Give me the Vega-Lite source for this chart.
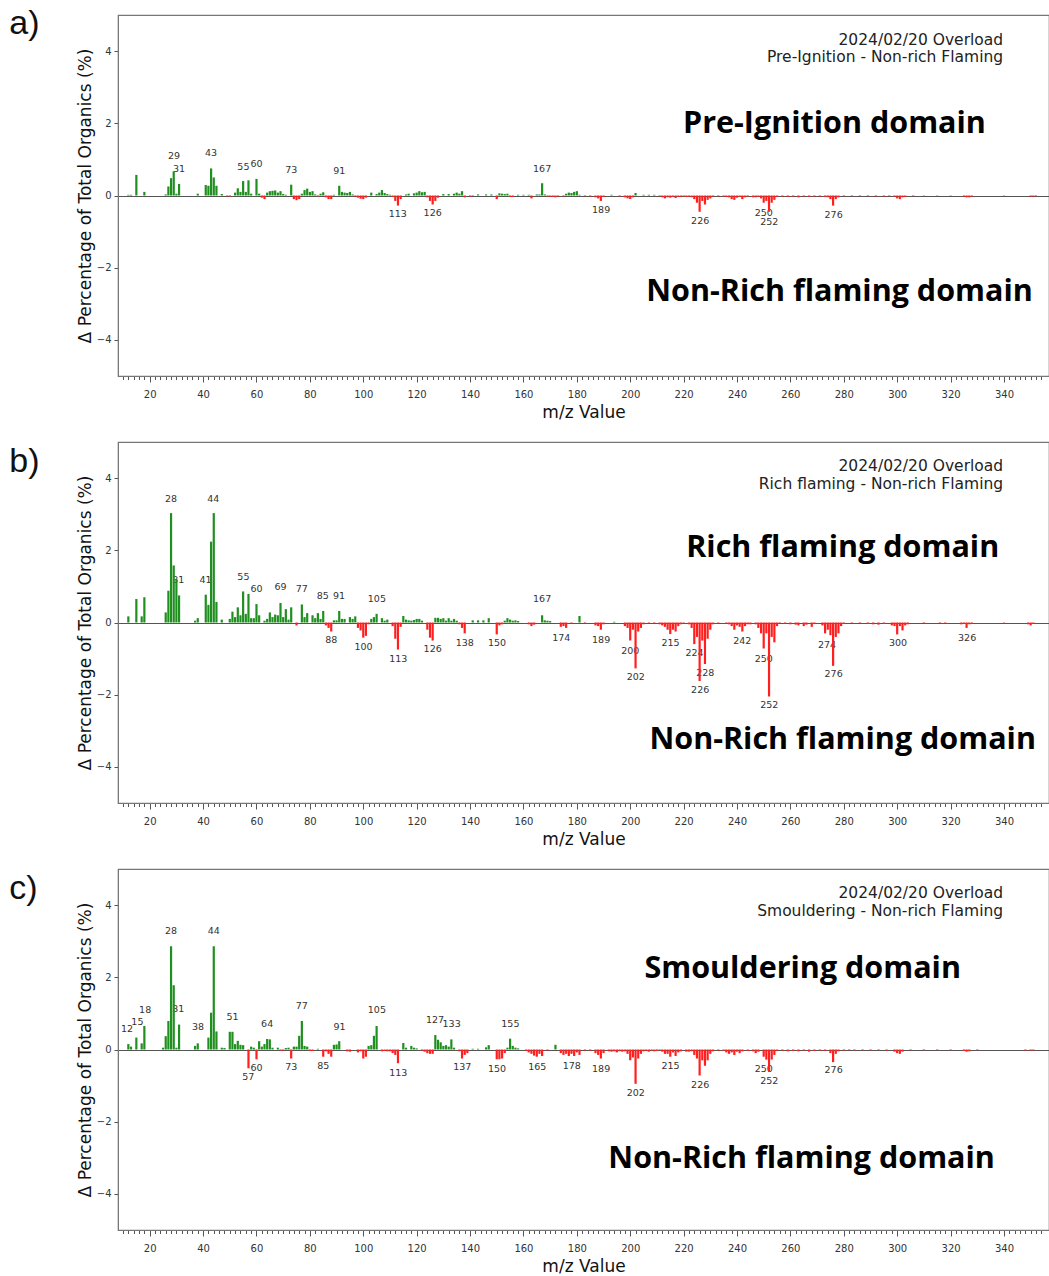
{
"$schema": "https://vega.github.io/schema/vega-lite/v6.json",
"background": "white",
"padding": {"left": 8, "top": 6, "right": 0, "bottom": 0},
"spacing": 20,
"config": {
 "view": {"stroke": "#777", "strokeWidth": 1.2},
 "axis": {"grid": false, "domainColor": "#777", "tickColor": "#555", "labelColor": "#333", "labelFont": "DejaVu Sans", "labelFontSize": 10, "titleFont": "DejaVu Sans", "titleFontSize": 17, "titleFontWeight": "normal", "titleColor": "#111", "labelOverlap": false, "labelFlush": false},
 "axisX": {"labelPadding": 7, "titlePadding": 5},
 "axisY": {"tickSize": 4, "labelPadding": 3, "titlePadding": 2}
},
"datasets": {
"a": [
{"mz":12,"v":0.02},{"mz":13,"v":0.02},{"mz":15,"v":0.57},{"mz":18,"v":0.1},{"mz":26,"v":0.03},{"mz":27,"v":0.25},{"mz":28,"v":0.48},{"mz":29,"v":0.67},{"mz":30,"v":0.05},{"mz":31,"v":0.32},{"mz":38,"v":0.05},{"mz":41,"v":0.29},{"mz":42,"v":0.27},{"mz":43,"v":0.75},{"mz":44,"v":0.5},{"mz":45,"v":0.27},{"mz":47,"v":0.04},{"mz":49,"v":-0.02},{"mz":50,"v":-0.03},{"mz":52,"v":0.08},{"mz":53,"v":0.2},{"mz":54,"v":0.1},{"mz":55,"v":0.4},{"mz":56,"v":0.1},{"mz":57,"v":0.42},{"mz":58,"v":0.05},{"mz":60,"v":0.46},{"mz":61,"v":0.05},{"mz":62,"v":-0.06},{"mz":63,"v":-0.1},{"mz":64,"v":0.08},{"mz":65,"v":0.12},{"mz":66,"v":0.13},{"mz":67,"v":0.14},{"mz":68,"v":0.08},{"mz":69,"v":0.12},{"mz":70,"v":0.04},{"mz":71,"v":0.02},{"mz":73,"v":0.3},{"mz":74,"v":-0.1},{"mz":75,"v":-0.13},{"mz":76,"v":-0.1},{"mz":77,"v":0.05},{"mz":78,"v":0.15},{"mz":79,"v":0.19},{"mz":80,"v":0.1},{"mz":81,"v":0.12},{"mz":82,"v":0.03},{"mz":83,"v":-0.03},{"mz":84,"v":0.05},{"mz":85,"v":0.09},{"mz":86,"v":-0.05},{"mz":87,"v":-0.1},{"mz":88,"v":-0.1},{"mz":89,"v":0.02},{"mz":91,"v":0.27},{"mz":92,"v":0.1},{"mz":93,"v":0.08},{"mz":94,"v":0.07},{"mz":95,"v":0.1},{"mz":96,"v":0.03},{"mz":97,"v":-0.03},{"mz":98,"v":-0.06},{"mz":99,"v":-0.09},{"mz":100,"v":-0.1},{"mz":101,"v":-0.06},{"mz":103,"v":0.08},{"mz":105,"v":0.04},{"mz":106,"v":0.08},{"mz":107,"v":0.15},{"mz":108,"v":0.07},{"mz":109,"v":0.04},{"mz":110,"v":0.02},{"mz":111,"v":-0.04},{"mz":112,"v":-0.15},{"mz":113,"v":-0.28},{"mz":114,"v":-0.1},{"mz":116,"v":0.03},{"mz":117,"v":0.05},{"mz":119,"v":0.06},{"mz":120,"v":0.08},{"mz":121,"v":0.12},{"mz":122,"v":0.09},{"mz":123,"v":0.1},{"mz":124,"v":-0.05},{"mz":125,"v":-0.15},{"mz":126,"v":-0.25},{"mz":127,"v":-0.15},{"mz":128,"v":-0.06},{"mz":130,"v":0.04},{"mz":132,"v":0.04},{"mz":134,"v":0.05},{"mz":135,"v":0.08},{"mz":136,"v":0.05},{"mz":137,"v":0.12},{"mz":138,"v":-0.05},{"mz":140,"v":-0.03},{"mz":141,"v":-0.02},{"mz":143,"v":0.03},{"mz":146,"v":0.03},{"mz":148,"v":0.03},{"mz":150,"v":-0.1},{"mz":151,"v":0.06},{"mz":152,"v":0.05},{"mz":153,"v":0.04},{"mz":154,"v":0.05},{"mz":155,"v":-0.04},{"mz":156,"v":-0.04},{"mz":158,"v":0.02},{"mz":160,"v":0.02},{"mz":162,"v":0.02},{"mz":163,"v":-0.08},{"mz":165,"v":0.03},{"mz":166,"v":0.03},{"mz":167,"v":0.34},{"mz":168,"v":0.03},{"mz":169,"v":-0.03},{"mz":170,"v":-0.03},{"mz":171,"v":-0.04},{"mz":172,"v":-0.05},{"mz":173,"v":-0.03},{"mz":175,"v":-0.03},{"mz":176,"v":0.05},{"mz":177,"v":0.08},{"mz":178,"v":0.07},{"mz":179,"v":0.1},{"mz":180,"v":0.12},{"mz":181,"v":0.02},{"mz":183,"v":-0.02},{"mz":185,"v":-0.03},{"mz":187,"v":-0.05},{"mz":188,"v":-0.08},{"mz":189,"v":-0.15},{"mz":190,"v":-0.04},{"mz":193,"v":0.02},{"mz":196,"v":-0.03},{"mz":198,"v":-0.05},{"mz":199,"v":-0.08},{"mz":200,"v":-0.1},{"mz":201,"v":-0.05},{"mz":202,"v":0.07},{"mz":205,"v":0.02},{"mz":207,"v":0.02},{"mz":209,"v":0.02},{"mz":211,"v":-0.02},{"mz":212,"v":-0.05},{"mz":213,"v":-0.08},{"mz":214,"v":-0.05},{"mz":215,"v":-0.06},{"mz":216,"v":-0.04},{"mz":217,"v":-0.07},{"mz":218,"v":-0.04},{"mz":219,"v":-0.03},{"mz":220,"v":-0.03},{"mz":221,"v":-0.04},{"mz":222,"v":-0.03},{"mz":223,"v":-0.05},{"mz":224,"v":-0.1},{"mz":225,"v":-0.2},{"mz":226,"v":-0.45},{"mz":227,"v":-0.15},{"mz":228,"v":-0.25},{"mz":229,"v":-0.12},{"mz":230,"v":-0.08},{"mz":231,"v":-0.03},{"mz":233,"v":-0.02},{"mz":235,"v":-0.03},{"mz":236,"v":-0.04},{"mz":237,"v":-0.05},{"mz":238,"v":-0.1},{"mz":239,"v":-0.12},{"mz":240,"v":-0.06},{"mz":241,"v":-0.04},{"mz":242,"v":-0.1},{"mz":243,"v":-0.05},{"mz":244,"v":-0.03},{"mz":246,"v":-0.05},{"mz":247,"v":-0.05},{"mz":248,"v":-0.03},{"mz":249,"v":-0.08},{"mz":250,"v":-0.2},{"mz":251,"v":-0.15},{"mz":252,"v":-0.45},{"mz":253,"v":-0.2},{"mz":254,"v":-0.12},{"mz":255,"v":-0.04},{"mz":257,"v":-0.03},{"mz":259,"v":-0.04},{"mz":261,"v":-0.03},{"mz":263,"v":-0.05},{"mz":265,"v":-0.03},{"mz":267,"v":-0.04},{"mz":269,"v":-0.03},{"mz":271,"v":-0.03},{"mz":273,"v":-0.04},{"mz":274,"v":-0.05},{"mz":275,"v":-0.1},{"mz":276,"v":-0.28},{"mz":277,"v":-0.1},{"mz":278,"v":-0.05},{"mz":280,"v":-0.02},{"mz":283,"v":-0.02},{"mz":286,"v":-0.02},{"mz":289,"v":-0.02},{"mz":292,"v":-0.03},{"mz":295,"v":-0.03},{"mz":297,"v":-0.02},{"mz":299,"v":-0.03},{"mz":300,"v":-0.08},{"mz":301,"v":-0.1},{"mz":302,"v":-0.05},{"mz":303,"v":-0.04},{"mz":306,"v":-0.02},{"mz":310,"v":-0.01},{"mz":315,"v":-0.01},{"mz":320,"v":-0.01},{"mz":325,"v":-0.03},{"mz":326,"v":-0.05},{"mz":327,"v":-0.05},{"mz":328,"v":-0.03},{"mz":340,"v":-0.01},{"mz":350,"v":-0.03},{"mz":351,"v":-0.03},{"mz":352,"v":-0.02}
],
"b": [
{"mz":12,"v":0.17},{"mz":15,"v":0.65},{"mz":17,"v":0.17},{"mz":18,"v":0.7},{"mz":26,"v":0.28},{"mz":27,"v":0.88},{"mz":28,"v":3.03},{"mz":29,"v":1.58},{"mz":30,"v":1.2},{"mz":31,"v":0.75},{"mz":37,"v":0.05},{"mz":38,"v":0.12},{"mz":41,"v":0.77},{"mz":42,"v":0.49},{"mz":43,"v":2.24},{"mz":44,"v":3.03},{"mz":45,"v":0.57},{"mz":47,"v":0.08},{"mz":50,"v":0.1},{"mz":51,"v":0.3},{"mz":52,"v":0.15},{"mz":53,"v":0.42},{"mz":54,"v":0.2},{"mz":55,"v":0.86},{"mz":56,"v":0.24},{"mz":57,"v":0.79},{"mz":58,"v":0.12},{"mz":59,"v":0.12},{"mz":60,"v":0.51},{"mz":61,"v":0.2},{"mz":63,"v":0.05},{"mz":64,"v":0.1},{"mz":65,"v":0.28},{"mz":66,"v":0.15},{"mz":67,"v":0.22},{"mz":68,"v":0.2},{"mz":69,"v":0.54},{"mz":70,"v":0.15},{"mz":71,"v":0.37},{"mz":72,"v":0.08},{"mz":73,"v":0.42},{"mz":75,"v":-0.08},{"mz":77,"v":0.5},{"mz":78,"v":0.15},{"mz":79,"v":0.26},{"mz":81,"v":0.2},{"mz":82,"v":0.12},{"mz":83,"v":0.26},{"mz":84,"v":0.1},{"mz":85,"v":0.32},{"mz":86,"v":-0.08},{"mz":87,"v":-0.15},{"mz":88,"v":-0.25},{"mz":89,"v":0.06},{"mz":90,"v":0.06},{"mz":91,"v":0.32},{"mz":92,"v":0.1},{"mz":93,"v":0.1},{"mz":95,"v":0.15},{"mz":96,"v":0.1},{"mz":97,"v":0.17},{"mz":98,"v":-0.15},{"mz":99,"v":-0.22},{"mz":100,"v":-0.42},{"mz":101,"v":-0.37},{"mz":102,"v":-0.05},{"mz":103,"v":0.1},{"mz":104,"v":0.15},{"mz":105,"v":0.24},{"mz":107,"v":0.12},{"mz":108,"v":0.05},{"mz":109,"v":0.08},{"mz":111,"v":-0.1},{"mz":112,"v":-0.45},{"mz":113,"v":-0.75},{"mz":114,"v":-0.12},{"mz":115,"v":0.18},{"mz":116,"v":0.08},{"mz":117,"v":0.06},{"mz":118,"v":0.05},{"mz":119,"v":0.07},{"mz":120,"v":0.1},{"mz":121,"v":0.1},{"mz":122,"v":0.05},{"mz":124,"v":-0.2},{"mz":125,"v":-0.42},{"mz":126,"v":-0.5},{"mz":127,"v":0.13},{"mz":128,"v":0.13},{"mz":129,"v":0.1},{"mz":130,"v":0.12},{"mz":131,"v":0.05},{"mz":132,"v":0.12},{"mz":133,"v":0.05},{"mz":134,"v":0.1},{"mz":135,"v":0.05},{"mz":136,"v":-0.05},{"mz":137,"v":-0.15},{"mz":138,"v":-0.3},{"mz":141,"v":0.06},{"mz":143,"v":0.06},{"mz":145,"v":0.06},{"mz":147,"v":0.12},{"mz":150,"v":-0.33},{"mz":151,"v":-0.08},{"mz":152,"v":-0.05},{"mz":153,"v":0.05},{"mz":154,"v":0.12},{"mz":155,"v":0.08},{"mz":156,"v":0.05},{"mz":157,"v":0.06},{"mz":158,"v":0.04},{"mz":162,"v":-0.05},{"mz":163,"v":-0.1},{"mz":164,"v":-0.06},{"mz":167,"v":0.2},{"mz":168,"v":0.06},{"mz":169,"v":0.05},{"mz":170,"v":0.04},{"mz":174,"v":-0.12},{"mz":175,"v":-0.1},{"mz":176,"v":-0.15},{"mz":178,"v":-0.03},{"mz":181,"v":0.18},{"mz":183,"v":-0.02},{"mz":187,"v":-0.08},{"mz":188,"v":-0.1},{"mz":189,"v":-0.2},{"mz":190,"v":-0.05},{"mz":194,"v":0.02},{"mz":198,"v":-0.1},{"mz":199,"v":-0.15},{"mz":200,"v":-0.5},{"mz":201,"v":-0.2},{"mz":202,"v":-1.27},{"mz":203,"v":-0.25},{"mz":204,"v":-0.15},{"mz":205,"v":-0.05},{"mz":207,"v":-0.02},{"mz":209,"v":-0.02},{"mz":211,"v":-0.05},{"mz":212,"v":-0.08},{"mz":213,"v":-0.12},{"mz":214,"v":-0.2},{"mz":215,"v":-0.32},{"mz":216,"v":-0.2},{"mz":217,"v":-0.25},{"mz":218,"v":-0.1},{"mz":219,"v":-0.05},{"mz":220,"v":-0.03},{"mz":222,"v":-0.05},{"mz":223,"v":-0.15},{"mz":224,"v":-0.6},{"mz":225,"v":-0.4},{"mz":226,"v":-1.62},{"mz":227,"v":-0.5},{"mz":228,"v":-1.15},{"mz":229,"v":-0.45},{"mz":230,"v":-0.2},{"mz":231,"v":-0.05},{"mz":233,"v":-0.02},{"mz":236,"v":-0.03},{"mz":237,"v":-0.05},{"mz":238,"v":-0.1},{"mz":239,"v":-0.2},{"mz":240,"v":-0.08},{"mz":241,"v":-0.12},{"mz":242,"v":-0.25},{"mz":243,"v":-0.1},{"mz":244,"v":-0.05},{"mz":245,"v":-0.05},{"mz":247,"v":-0.05},{"mz":248,"v":-0.15},{"mz":249,"v":-0.3},{"mz":250,"v":-0.72},{"mz":251,"v":-0.3},{"mz":252,"v":-2.05},{"mz":253,"v":-0.4},{"mz":254,"v":-0.55},{"mz":255,"v":-0.1},{"mz":256,"v":-0.03},{"mz":258,"v":-0.03},{"mz":260,"v":-0.05},{"mz":262,"v":-0.06},{"mz":263,"v":-0.08},{"mz":265,"v":-0.1},{"mz":266,"v":-0.06},{"mz":268,"v":-0.12},{"mz":269,"v":-0.04},{"mz":272,"v":-0.08},{"mz":273,"v":-0.3},{"mz":274,"v":-0.2},{"mz":275,"v":-0.35},{"mz":276,"v":-1.2},{"mz":277,"v":-0.4},{"mz":278,"v":-0.3},{"mz":279,"v":-0.1},{"mz":280,"v":-0.04},{"mz":283,"v":-0.02},{"mz":286,"v":-0.02},{"mz":289,"v":-0.04},{"mz":291,"v":-0.05},{"mz":293,"v":-0.06},{"mz":295,"v":-0.04},{"mz":298,"v":-0.08},{"mz":299,"v":-0.1},{"mz":300,"v":-0.33},{"mz":301,"v":-0.1},{"mz":302,"v":-0.22},{"mz":303,"v":-0.08},{"mz":304,"v":-0.05},{"mz":310,"v":-0.02},{"mz":316,"v":-0.02},{"mz":318,"v":-0.02},{"mz":324,"v":-0.05},{"mz":325,"v":-0.04},{"mz":326,"v":-0.15},{"mz":327,"v":-0.05},{"mz":328,"v":-0.04},{"mz":340,"v":-0.01},{"mz":349,"v":-0.05},{"mz":350,"v":-0.08},{"mz":351,"v":-0.04}
],
"c": [
{"mz":12,"v":0.15},{"mz":13,"v":0.08},{"mz":15,"v":0.33},{"mz":17,"v":0.17},{"mz":18,"v":0.65},{"mz":25,"v":0.05},{"mz":26,"v":0.37},{"mz":27,"v":0.79},{"mz":28,"v":2.86},{"mz":29,"v":1.78},{"mz":30,"v":0.05},{"mz":31,"v":0.69},{"mz":37,"v":0.1},{"mz":38,"v":0.17},{"mz":42,"v":0.33},{"mz":43,"v":1.02},{"mz":44,"v":2.86},{"mz":45,"v":0.5},{"mz":47,"v":0.05},{"mz":48,"v":0.04},{"mz":50,"v":0.49},{"mz":51,"v":0.49},{"mz":52,"v":0.15},{"mz":53,"v":0.24},{"mz":54,"v":0.13},{"mz":55,"v":0.12},{"mz":57,"v":-0.52},{"mz":58,"v":0.08},{"mz":59,"v":0.05},{"mz":60,"v":-0.27},{"mz":61,"v":0.23},{"mz":62,"v":0.08},{"mz":63,"v":0.15},{"mz":64,"v":0.29},{"mz":65,"v":0.28},{"mz":66,"v":0.05},{"mz":68,"v":0.05},{"mz":69,"v":-0.03},{"mz":70,"v":-0.03},{"mz":71,"v":0.04},{"mz":72,"v":0.05},{"mz":73,"v":-0.25},{"mz":74,"v":0.08},{"mz":75,"v":0.08},{"mz":76,"v":0.38},{"mz":77,"v":0.79},{"mz":78,"v":0.1},{"mz":79,"v":0.08},{"mz":80,"v":-0.04},{"mz":81,"v":-0.04},{"mz":83,"v":0.02},{"mz":85,"v":-0.2},{"mz":86,"v":-0.05},{"mz":87,"v":-0.12},{"mz":88,"v":-0.2},{"mz":89,"v":0.13},{"mz":90,"v":0.14},{"mz":91,"v":0.23},{"mz":94,"v":-0.05},{"mz":95,"v":-0.06},{"mz":98,"v":-0.08},{"mz":99,"v":-0.05},{"mz":100,"v":-0.25},{"mz":101,"v":-0.2},{"mz":102,"v":0.1},{"mz":103,"v":0.12},{"mz":104,"v":0.38},{"mz":105,"v":0.65},{"mz":107,"v":-0.05},{"mz":108,"v":-0.04},{"mz":109,"v":-0.05},{"mz":110,"v":-0.05},{"mz":111,"v":-0.1},{"mz":112,"v":-0.15},{"mz":113,"v":-0.38},{"mz":115,"v":0.18},{"mz":116,"v":0.05},{"mz":118,"v":0.1},{"mz":119,"v":0.05},{"mz":120,"v":0.03},{"mz":122,"v":-0.03},{"mz":123,"v":-0.06},{"mz":124,"v":-0.1},{"mz":125,"v":-0.12},{"mz":126,"v":-0.12},{"mz":127,"v":0.4},{"mz":128,"v":0.27},{"mz":129,"v":0.2},{"mz":130,"v":0.1},{"mz":131,"v":0.12},{"mz":132,"v":0.08},{"mz":133,"v":0.28},{"mz":134,"v":0.05},{"mz":136,"v":-0.05},{"mz":137,"v":-0.25},{"mz":138,"v":-0.15},{"mz":139,"v":-0.1},{"mz":141,"v":0.02},{"mz":143,"v":0.02},{"mz":146,"v":0.06},{"mz":147,"v":0.12},{"mz":150,"v":-0.27},{"mz":151,"v":-0.27},{"mz":152,"v":-0.25},{"mz":153,"v":-0.1},{"mz":154,"v":0.05},{"mz":155,"v":0.3},{"mz":156,"v":0.1},{"mz":157,"v":0.05},{"mz":158,"v":0.03},{"mz":161,"v":-0.04},{"mz":162,"v":-0.08},{"mz":163,"v":-0.12},{"mz":164,"v":-0.17},{"mz":165,"v":-0.2},{"mz":166,"v":-0.12},{"mz":167,"v":-0.18},{"mz":169,"v":-0.03},{"mz":172,"v":0.13},{"mz":174,"v":-0.1},{"mz":175,"v":-0.15},{"mz":176,"v":-0.12},{"mz":177,"v":-0.18},{"mz":178,"v":-0.12},{"mz":179,"v":-0.18},{"mz":180,"v":-0.08},{"mz":181,"v":-0.15},{"mz":183,"v":-0.03},{"mz":185,"v":-0.03},{"mz":187,"v":-0.1},{"mz":188,"v":-0.15},{"mz":189,"v":-0.25},{"mz":190,"v":-0.1},{"mz":192,"v":-0.05},{"mz":193,"v":-0.06},{"mz":194,"v":-0.05},{"mz":195,"v":-0.08},{"mz":196,"v":-0.05},{"mz":197,"v":-0.06},{"mz":198,"v":-0.05},{"mz":199,"v":-0.12},{"mz":200,"v":-0.3},{"mz":201,"v":-0.22},{"mz":202,"v":-0.95},{"mz":203,"v":-0.25},{"mz":204,"v":-0.12},{"mz":205,"v":-0.05},{"mz":206,"v":-0.04},{"mz":207,"v":-0.06},{"mz":208,"v":-0.03},{"mz":209,"v":-0.05},{"mz":210,"v":-0.04},{"mz":211,"v":-0.03},{"mz":212,"v":-0.06},{"mz":213,"v":-0.12},{"mz":214,"v":-0.12},{"mz":215,"v":-0.2},{"mz":216,"v":-0.08},{"mz":217,"v":-0.18},{"mz":218,"v":-0.08},{"mz":219,"v":-0.05},{"mz":221,"v":-0.06},{"mz":222,"v":-0.06},{"mz":223,"v":-0.05},{"mz":224,"v":-0.15},{"mz":225,"v":-0.25},{"mz":226,"v":-0.72},{"mz":227,"v":-0.3},{"mz":228,"v":-0.45},{"mz":229,"v":-0.3},{"mz":230,"v":-0.12},{"mz":231,"v":-0.05},{"mz":233,"v":-0.03},{"mz":235,"v":-0.04},{"mz":236,"v":-0.08},{"mz":237,"v":-0.12},{"mz":238,"v":-0.08},{"mz":239,"v":-0.15},{"mz":240,"v":-0.06},{"mz":241,"v":-0.1},{"mz":242,"v":-0.05},{"mz":244,"v":-0.04},{"mz":246,"v":-0.05},{"mz":247,"v":-0.1},{"mz":248,"v":-0.06},{"mz":250,"v":-0.2},{"mz":251,"v":-0.28},{"mz":252,"v":-0.62},{"mz":253,"v":-0.28},{"mz":254,"v":-0.15},{"mz":255,"v":-0.04},{"mz":257,"v":-0.03},{"mz":259,"v":-0.05},{"mz":261,"v":-0.04},{"mz":263,"v":-0.05},{"mz":265,"v":-0.03},{"mz":267,"v":-0.06},{"mz":269,"v":-0.04},{"mz":271,"v":-0.03},{"mz":273,"v":-0.04},{"mz":275,"v":-0.1},{"mz":276,"v":-0.35},{"mz":277,"v":-0.12},{"mz":278,"v":-0.05},{"mz":280,"v":-0.03},{"mz":282,"v":-0.02},{"mz":284,"v":-0.03},{"mz":287,"v":-0.02},{"mz":290,"v":-0.03},{"mz":293,"v":-0.02},{"mz":296,"v":-0.03},{"mz":299,"v":-0.06},{"mz":300,"v":-0.1},{"mz":301,"v":-0.12},{"mz":302,"v":-0.06},{"mz":305,"v":-0.02},{"mz":310,"v":-0.02},{"mz":315,"v":-0.02},{"mz":320,"v":-0.02},{"mz":325,"v":-0.04},{"mz":326,"v":-0.06},{"mz":327,"v":-0.05},{"mz":330,"v":-0.02},{"mz":348,"v":-0.03},{"mz":350,"v":-0.03},{"mz":351,"v":-0.03}
],
"la": [
{"mz":29.1,"v":1.10,"t":"29"},{"mz":31.0,"v":0.74,"t":"31"},{"mz":43,"v":1.17,"t":"43"},{"mz":55.1,"v":0.8,"t":"55"},{"mz":60,"v":0.86,"t":"60"},{"mz":73,"v":0.71,"t":"73"},{"mz":91,"v":0.67,"t":"91"},{"mz":112.9,"v":-0.52,"t":"113"},{"mz":126,"v":-0.49,"t":"126"},{"mz":167,"v":0.74,"t":"167"},{"mz":189.1,"v":-0.41,"t":"189"},{"mz":226.2,"v":-0.72,"t":"226"},{"mz":250,"v":-0.49,"t":"250"},{"mz":252.1,"v":-0.73,"t":"252"},{"mz":276.2,"v":-0.53,"t":"276"}
],
"lb": [
{"mz":28,"v":3.43,"t":"28"},{"mz":43.8,"v":3.43,"t":"44"},{"mz":30.7,"v":1.17,"t":"31"},{"mz":40.9,"v":1.19,"t":"41"},{"mz":55.1,"v":1.26,"t":"55"},{"mz":60,"v":0.93,"t":"60"},{"mz":69,"v":0.97,"t":"69"},{"mz":77,"v":0.92,"t":"77"},{"mz":84.8,"v":0.74,"t":"85"},{"mz":90.9,"v":0.74,"t":"91"},{"mz":105.1,"v":0.66,"t":"105"},{"mz":88,"v":-0.49,"t":"88"},{"mz":100.1,"v":-0.68,"t":"100"},{"mz":113.1,"v":-1.02,"t":"113"},{"mz":126,"v":-0.74,"t":"126"},{"mz":138,"v":-0.58,"t":"138"},{"mz":150.1,"v":-0.58,"t":"150"},{"mz":167,"v":0.65,"t":"167"},{"mz":174.2,"v":-0.43,"t":"174"},{"mz":189.1,"v":-0.49,"t":"189"},{"mz":200,"v":-0.79,"t":"200"},{"mz":202.1,"v":-1.52,"t":"202"},{"mz":215.1,"v":-0.57,"t":"215"},{"mz":224.1,"v":-0.84,"t":"224"},{"mz":228.1,"v":-1.41,"t":"228"},{"mz":226.2,"v":-1.88,"t":"226"},{"mz":242,"v":-0.52,"t":"242"},{"mz":250,"v":-1.0,"t":"250"},{"mz":252.1,"v":-2.29,"t":"252"},{"mz":273.7,"v":-0.61,"t":"274"},{"mz":276.2,"v":-1.44,"t":"276"},{"mz":300.3,"v":-0.58,"t":"300"},{"mz":326.2,"v":-0.42,"t":"326"}
],
"lc": [
{"mz":11.5,"v":0.58,"t":"12"},{"mz":15.4,"v":0.76,"t":"15"},{"mz":18.3,"v":1.09,"t":"18"},{"mz":28,"v":3.29,"t":"28"},{"mz":44,"v":3.29,"t":"44"},{"mz":30.7,"v":1.11,"t":"31"},{"mz":38.1,"v":0.61,"t":"38"},{"mz":51,"v":0.9,"t":"51"},{"mz":64,"v":0.72,"t":"64"},{"mz":77,"v":1.21,"t":"77"},{"mz":91.1,"v":0.63,"t":"91"},{"mz":105.1,"v":1.09,"t":"105"},{"mz":126.9,"v":0.83,"t":"127"},{"mz":133.1,"v":0.72,"t":"133"},{"mz":155.1,"v":0.72,"t":"155"},{"mz":56.9,"v":-0.76,"t":"57"},{"mz":60,"v":-0.51,"t":"60"},{"mz":73,"v":-0.48,"t":"73"},{"mz":85,"v":-0.45,"t":"85"},{"mz":113.1,"v":-0.64,"t":"113"},{"mz":137.1,"v":-0.48,"t":"137"},{"mz":150.1,"v":-0.53,"t":"150"},{"mz":165.2,"v":-0.48,"t":"165"},{"mz":178.1,"v":-0.45,"t":"178"},{"mz":189.1,"v":-0.53,"t":"189"},{"mz":202.1,"v":-1.2,"t":"202"},{"mz":215.1,"v":-0.46,"t":"215"},{"mz":226.2,"v":-0.97,"t":"226"},{"mz":250,"v":-0.55,"t":"250"},{"mz":252.1,"v":-0.88,"t":"252"},{"mz":276.2,"v":-0.57,"t":"276"}
],
"na": [{"mz":-32.6,"v":4.75,"t":"a)"}],
"nb": [{"mz":-32.6,"v":4.44,"t":"b)"}],
"nc": [{"mz":-32.6,"v":4.44,"t":"c)"}],
"ha": [{"mz":339.7,"v":4.31,"t":"2024/02/20 Overload"},{"mz":339.7,"v":3.84,"t":"Pre-Ignition - Non-rich Flaming"}],
"hb": [{"mz":339.7,"v":4.33,"t":"2024/02/20 Overload"},{"mz":339.7,"v":3.85,"t":"Rich flaming - Non-rich Flaming"}],
"hc": [{"mz":339.7,"v":4.34,"t":"2024/02/20 Overload"},{"mz":339.7,"v":3.84,"t":"Smouldering - Non-rich Flaming"}],
"da": [{"mz":276.5,"v":1.98,"t":"Pre-Ignition domain"},{"mz":278.4,"v":-2.67,"t":"Non-Rich flaming domain"}],
"db": [{"mz":279.6,"v":2.05,"t":"Rich flaming domain"},{"mz":279.6,"v":-3.26,"t":"Non-Rich flaming domain"}],
"dc": [{"mz":264.6,"v":2.24,"t":"Smouldering domain"},{"mz":264.2,"v":-3.02,"t":"Non-Rich flaming domain"}]
},
"vconcat": [
{
 "width": 931, "height": 361,
 "encoding": {
  "x": {"field": "mz", "type": "quantitative", "title": "m/z Value", "scale": {"domain": [10, 355], "nice": false, "zero": false},
   "axis": {"values": [10,12,14,16,18,20,22,24,26,28,30,32,34,36,38,40,42,44,46,48,50,52,54,56,58,60,62,64,66,68,70,72,74,76,78,80,82,84,86,88,90,92,94,96,98,100,102,104,106,108,110,112,114,116,118,120,122,124,126,128,130,132,134,136,138,140,142,144,146,148,150,152,154,156,158,160,162,164,166,168,170,172,174,176,178,180,182,184,186,188,190,192,194,196,198,200,202,204,206,208,210,212,214,216,218,220,222,224,226,228,230,232,234,236,238,240,242,244,246,248,250,252,254,256,258,260,262,264,266,268,270,272,274,276,278,280,282,284,286,288,290,292,294,296,298,300,302,304,306,308,310,312,314,316,318,320,322,324,326,328,330,332,334,336,338,340,342,344,346,348,350,352,354],
    "labelExpr": "datum.value % 20 === 0 ? datum.label : ''",
    "tickSize": {"condition": {"test": "datum.value % 20 === 0", "value": 6}, "value": 3.5}}},
  "y": {"field": "v", "type": "quantitative", "title": "Δ Percentage of Total Organics (%)", "scale": {"domain": [-5, 5], "nice": false},
   "axis": {"values": [-4,-2,0,2,4], "grid": true, "gridColor": "#555", "gridWidth": 1, "gridOpacity": {"condition": {"test": "datum.value === 0", "value": 1}, "value": 0}}}
 },
 "layer": [
  {"data": {"name": "la"}, "mark": {"type": "text", "font": "DejaVu Sans", "fontSize": 9.5, "color": "#333"}, "encoding": {"text": {"field": "t", "type": "nominal"}}},
  {"data": {"name": "a"}, "mark": {"type": "bar", "width": 2.2}, "encoding": {"color": {"condition": {"test": "datum.v < 0", "value": "#ff1f1f"}, "value": "#1f8f1f"}}},
  {"data": {"name": "na"}, "mark": {"type": "text", "font": "Liberation Sans", "fontSize": 34, "align": "left", "color": "#111"}, "encoding": {"text": {"field": "t", "type": "nominal"}}},
  {"data": {"name": "ha"}, "mark": {"type": "text", "font": "DejaVu Sans", "fontSize": 15.5, "align": "right", "color": "#222"}, "encoding": {"text": {"field": "t", "type": "nominal"}}},
  {"data": {"name": "da"}, "mark": {"type": "text", "font": "Open Sans", "fontSize": 30.5, "fontWeight": "bold", "color": "#000"}, "encoding": {"text": {"field": "t", "type": "nominal"}}}
 ]
},
{
 "width": 931, "height": 361,
 "encoding": {
  "x": {"field": "mz", "type": "quantitative", "title": "m/z Value", "scale": {"domain": [10, 355], "nice": false, "zero": false},
   "axis": {"values": [10,12,14,16,18,20,22,24,26,28,30,32,34,36,38,40,42,44,46,48,50,52,54,56,58,60,62,64,66,68,70,72,74,76,78,80,82,84,86,88,90,92,94,96,98,100,102,104,106,108,110,112,114,116,118,120,122,124,126,128,130,132,134,136,138,140,142,144,146,148,150,152,154,156,158,160,162,164,166,168,170,172,174,176,178,180,182,184,186,188,190,192,194,196,198,200,202,204,206,208,210,212,214,216,218,220,222,224,226,228,230,232,234,236,238,240,242,244,246,248,250,252,254,256,258,260,262,264,266,268,270,272,274,276,278,280,282,284,286,288,290,292,294,296,298,300,302,304,306,308,310,312,314,316,318,320,322,324,326,328,330,332,334,336,338,340,342,344,346,348,350,352,354],
    "labelExpr": "datum.value % 20 === 0 ? datum.label : ''",
    "tickSize": {"condition": {"test": "datum.value % 20 === 0", "value": 6}, "value": 3.5}}},
  "y": {"field": "v", "type": "quantitative", "title": "Δ Percentage of Total Organics (%)", "scale": {"domain": [-5, 5], "nice": false},
   "axis": {"values": [-4,-2,0,2,4], "grid": true, "gridColor": "#555", "gridWidth": 1, "gridOpacity": {"condition": {"test": "datum.value === 0", "value": 1}, "value": 0}}}
 },
 "layer": [
  {"data": {"name": "lb"}, "mark": {"type": "text", "font": "DejaVu Sans", "fontSize": 9.5, "color": "#333"}, "encoding": {"text": {"field": "t", "type": "nominal"}}},
  {"data": {"name": "b"}, "mark": {"type": "bar", "width": 2.2}, "encoding": {"color": {"condition": {"test": "datum.v < 0", "value": "#ff1f1f"}, "value": "#1f8f1f"}}},
  {"data": {"name": "nb"}, "mark": {"type": "text", "font": "Liberation Sans", "fontSize": 34, "align": "left", "color": "#111"}, "encoding": {"text": {"field": "t", "type": "nominal"}}},
  {"data": {"name": "hb"}, "mark": {"type": "text", "font": "DejaVu Sans", "fontSize": 15.5, "align": "right", "color": "#222"}, "encoding": {"text": {"field": "t", "type": "nominal"}}},
  {"data": {"name": "db"}, "mark": {"type": "text", "font": "Open Sans", "fontSize": 30.5, "fontWeight": "bold", "color": "#000"}, "encoding": {"text": {"field": "t", "type": "nominal"}}}
 ]
},
{
 "width": 931, "height": 361,
 "encoding": {
  "x": {"field": "mz", "type": "quantitative", "title": "m/z Value", "scale": {"domain": [10, 355], "nice": false, "zero": false},
   "axis": {"values": [10,12,14,16,18,20,22,24,26,28,30,32,34,36,38,40,42,44,46,48,50,52,54,56,58,60,62,64,66,68,70,72,74,76,78,80,82,84,86,88,90,92,94,96,98,100,102,104,106,108,110,112,114,116,118,120,122,124,126,128,130,132,134,136,138,140,142,144,146,148,150,152,154,156,158,160,162,164,166,168,170,172,174,176,178,180,182,184,186,188,190,192,194,196,198,200,202,204,206,208,210,212,214,216,218,220,222,224,226,228,230,232,234,236,238,240,242,244,246,248,250,252,254,256,258,260,262,264,266,268,270,272,274,276,278,280,282,284,286,288,290,292,294,296,298,300,302,304,306,308,310,312,314,316,318,320,322,324,326,328,330,332,334,336,338,340,342,344,346,348,350,352,354],
    "labelExpr": "datum.value % 20 === 0 ? datum.label : ''",
    "tickSize": {"condition": {"test": "datum.value % 20 === 0", "value": 6}, "value": 3.5}}},
  "y": {"field": "v", "type": "quantitative", "title": "Δ Percentage of Total Organics (%)", "scale": {"domain": [-5, 5], "nice": false},
   "axis": {"values": [-4,-2,0,2,4], "grid": true, "gridColor": "#555", "gridWidth": 1, "gridOpacity": {"condition": {"test": "datum.value === 0", "value": 1}, "value": 0}}}
 },
 "layer": [
  {"data": {"name": "lc"}, "mark": {"type": "text", "font": "DejaVu Sans", "fontSize": 9.5, "color": "#333"}, "encoding": {"text": {"field": "t", "type": "nominal"}}},
  {"data": {"name": "c"}, "mark": {"type": "bar", "width": 2.2}, "encoding": {"color": {"condition": {"test": "datum.v < 0", "value": "#ff1f1f"}, "value": "#1f8f1f"}}},
  {"data": {"name": "nc"}, "mark": {"type": "text", "font": "Liberation Sans", "fontSize": 34, "align": "left", "color": "#111"}, "encoding": {"text": {"field": "t", "type": "nominal"}}},
  {"data": {"name": "hc"}, "mark": {"type": "text", "font": "DejaVu Sans", "fontSize": 15.5, "align": "right", "color": "#222"}, "encoding": {"text": {"field": "t", "type": "nominal"}}},
  {"data": {"name": "dc"}, "mark": {"type": "text", "font": "Open Sans", "fontSize": 30.5, "fontWeight": "bold", "color": "#000"}, "encoding": {"text": {"field": "t", "type": "nominal"}}}
 ]
}
]
}
